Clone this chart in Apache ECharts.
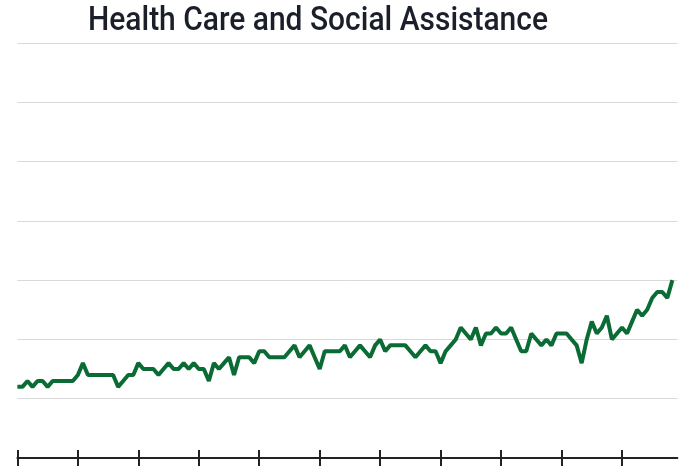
<!DOCTYPE html>
<html>
<head>
<meta charset="utf-8">
<script src="https://cdn.jsdelivr.net/npm/echarts@6/dist/echarts.min.js"></script>
<style>html,body{margin:0;padding:0;background:#fff;}#c{width:679px;height:472px;}</style>
</head>
<body>
<div id="c"></div>
<script>
const chartTitle = "Health Care and Social Assistance";
// monthly observations (index = month number from start)
const values = [
  1.2,1.2,1.3,1.2,1.3,1.3,1.2,1.3,1.3,1.3,1.3,1.3,1.4,1.6,1.4,1.4,1.4,1.4,1.4,1.4,1.2,1.3,
  1.4,1.4,1.6,1.5,1.5,1.5,1.4,1.5,1.6,1.5,1.5,1.6,1.5,1.6,1.5,1.5,1.3,1.6,1.5,1.6,1.7,
  1.4,1.7,1.7,1.7,1.6,1.8,1.8,1.7,1.7,1.7,1.7,1.8,1.9,1.7,1.8,1.9,1.7,1.5,1.8,1.8,1.8,1.8,
  1.9,1.7,1.8,1.9,1.8,1.7,1.9,2.0,1.8,1.9,1.9,1.9,1.9,1.8,1.7,1.8,1.9,1.8,1.8,1.6,1.8,
  1.9,2.0,2.2,2.1,2.0,2.2,1.9,2.1,2.1,2.2,2.1,2.1,2.2,2.0,1.8,1.8,2.1,2.0,1.9,2.0,1.9,
  2.1,2.1,2.1,2.0,1.9,1.6,2.0,2.3,2.1,2.2,2.4,2.0,2.1,2.2,2.1,2.3,2.5,2.4,2.5,2.7,2.8,2.8,2.7,3.0
];
const yearTicks = [0,12,24,36,48,60,72,84,96,108,120];

const titleFont = '500 34px Roboto';
const titleWidth = 460;
const mctx = document.createElement('canvas').getContext('2d');
mctx.font = titleFont;
const titleScale = titleWidth / mctx.measureText(chartTitle).width;

const chart = echarts.init(document.getElementById('c'), null, {renderer:'canvas'});
const seriesData = values.map((v,i)=>[i,v]);
const xBase = {
  type:'value', min:0, max:131, position:'bottom',
  splitLine:{show:false}, axisLabel:{show:false}
};
chart.setOption({
  animation:false,
  graphic:[{type:'text', x:88, y:4, scaleX:titleScale, originX:0,
    style:{text:chartTitle, font:titleFont, fill:'#1b1f2a', verticalAlign:'top', align:'left'}}],
  grid:{left:17.4, right:1.6, top:43, bottom:14},
  xAxis:[
    Object.assign({}, xBase, {
      axisLine:{show:true, lineStyle:{color:'#222', width:2}},
      axisTick:{show:true, inside:false, length:8, customValues:yearTicks, lineStyle:{color:'#222', width:2}}
    }),
    Object.assign({}, xBase, {
      axisLine:{show:false},
      axisTick:{show:true, inside:true, length:8, customValues:yearTicks, lineStyle:{color:'#222', width:2}}
    })
  ],
  yAxis:{type:'value', min:0, max:7, interval:1,
    axisLine:{show:false}, axisTick:{show:false}, axisLabel:{show:false},
    splitLine:{show:true, lineStyle:{color:'#d9d9d9', width:1}}},
  series:[{type:'line', data:seriesData, xAxisIndex:0, symbol:'none',
    lineStyle:{color:'#0b6b35', width:4}}]
});
</script>
</body>
</html>
